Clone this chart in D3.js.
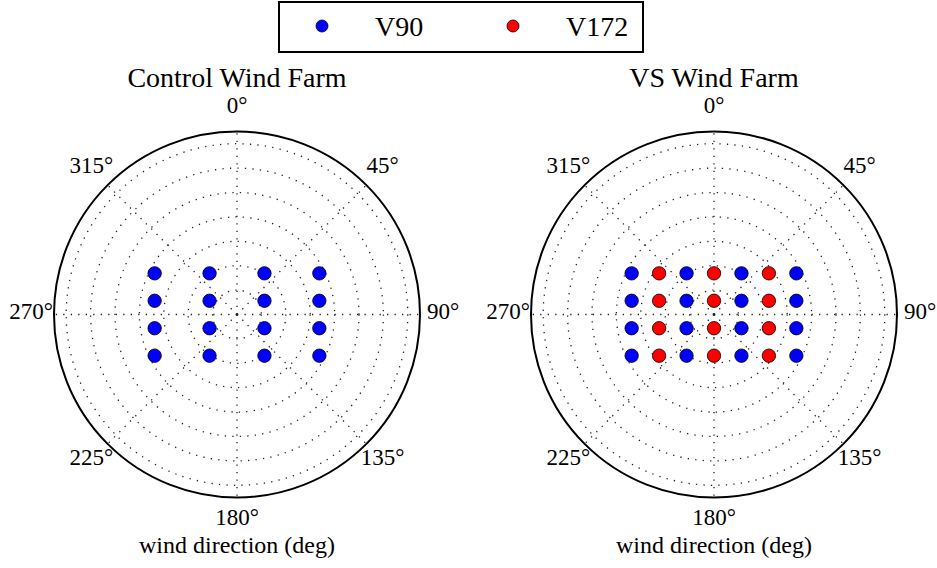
<!DOCTYPE html>
<html>
<head>
<meta charset="utf-8">
<script src="https://cdn.jsdelivr.net/npm/d3@7"></script>
<style>
  html, body { margin: 0; padding: 0; background: #fff; }
  svg { display: block; }
  svg text { font-family: "Liberation Serif", "Times New Roman", serif; }
</style>
</head>
<body>
<svg id="chart" width="937" height="568"></svg>
<script>
// Turbine layout in metres (east, north) relative to the farm centre
const v90East = [-675, -225, 225, 675];
const v172East = [-450, 0, 450];
const rowNorth = [337.5, 112.5, -112.5, -337.5];

// Polar axis configuration
const angleTicks = [0, 45, 90, 135, 180, 225, 270, 315];
const ringTicks = [200, 400, 600, 800, 1000, 1200, 1400];
const rMax = 1500;

const panelTitles = ["Control Wind Farm", "VS Wind Farm"];
const axisLabel = "wind direction (deg)";
const seriesNames = ["V90", "V172"];
const seriesColors = ["#0000ff", "#ff0000"];

function grid(easts, norths) {
  const pts = [];
  easts.forEach(e => norths.forEach(n => {
    pts.push({ theta: (Math.atan2(e, n) * 180 / Math.PI + 360) % 360, r: Math.hypot(e, n) });
  }));
  return pts;
}

const panels = [
  { cx: 237, title: panelTitles[0], series: [{ name: seriesNames[0], pts: grid(v90East, rowNorth) }] },
  { cx: 714, title: panelTitles[1], series: [
      { name: seriesNames[0], pts: grid(v90East, rowNorth) },
      { name: seriesNames[1], pts: grid(v172East, rowNorth) }] }
];

const svg = d3.select("#chart");
const R = 183, cy = 314.5;
const rScale = d3.scaleLinear().domain([0, rMax]).range([0, R]);
const aScale = d3.scaleLinear().domain([0, 360]).range([0, 2 * Math.PI]);
const color = d3.scaleOrdinal().domain(seriesNames).range(seriesColors);

function px(theta, r) { return rScale(r) * Math.sin(aScale(theta)); }
function py(theta, r) { return -rScale(r) * Math.cos(aScale(theta)); }

panels.forEach(p => {
  const g = svg.append("g").attr("transform", `translate(${p.cx},${cy})`);

  // radial rings
  g.selectAll("circle.ring").data(ringTicks).join("circle")
    .attr("class", "ring").attr("r", d => rScale(d))
    .attr("fill", "none").attr("stroke", "#222").attr("stroke-width", 1.3)
    .attr("stroke-dasharray", "1.3,6.2");

  // angular spokes
  g.selectAll("line.spoke").data(angleTicks).join("line")
    .attr("class", "spoke")
    .attr("x1", 0).attr("y1", 0)
    .attr("x2", d => px(d, rMax)).attr("y2", d => py(d, rMax))
    .attr("stroke", "#222").attr("stroke-width", 1.3)
    .attr("stroke-dasharray", "1.3,6.2");

  // outer frame
  g.append("circle").attr("r", rScale(rMax))
    .attr("fill", "none").attr("stroke", "#000").attr("stroke-width", 2);

  // turbines
  p.series.forEach(s => {
    g.selectAll(null).data(s.pts).join("circle")
      .attr("cx", d => px(d.theta, d.r)).attr("cy", d => py(d.theta, d.r))
      .attr("r", 6.7)
      .attr("fill", color(s.name)).attr("stroke", "#000").attr("stroke-width", 0.8);
  });

  // angle labels
  const labR = 206;
  g.selectAll("text.tick").data(angleTicks).join("text")
    .attr("class", "tick")
    .attr("x", d => labR * Math.sin(aScale(d)))
    .attr("y", d => -labR * Math.cos(aScale(d)) - 3 + 7.6)
    .attr("text-anchor", "middle")
    .attr("font-size", 23)
    .text(d => d + "\u00b0");

  // title and axis label
  svg.append("text").attr("x", p.cx).attr("y", 87)
    .attr("text-anchor", "middle").attr("font-size", 28).text(p.title);
  svg.append("text").attr("x", p.cx).attr("y", 553)
    .attr("text-anchor", "middle").attr("font-size", 24).text(axisLabel);
});

// legend
const lg = svg.append("g");
lg.append("rect").attr("x", 279).attr("y", 2).attr("width", 364).attr("height", 50)
  .attr("fill", "#fff").attr("stroke", "#000").attr("stroke-width", 2);
const legendX = [322, 513];
seriesNames.forEach((name, i) => {
  lg.append("circle").attr("cx", legendX[i]).attr("cy", 26).attr("r", 6)
    .attr("fill", color(name)).attr("stroke", "#000").attr("stroke-width", 0.8);
  lg.append("text").attr("x", legendX[i] + 53).attr("y", 36)
    .attr("font-size", 28).text(name);
});
</script>
</body>
</html>
